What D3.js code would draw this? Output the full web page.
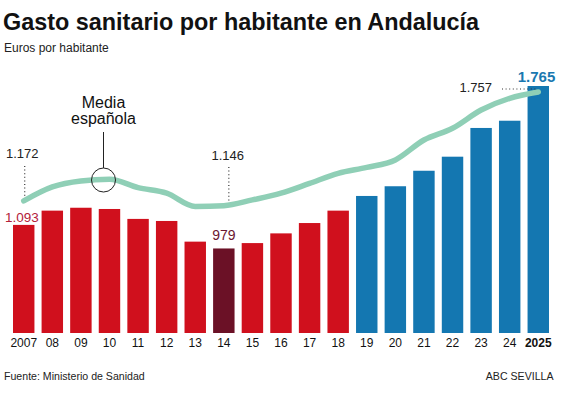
<!DOCTYPE html>
<html>
<head>
<meta charset="utf-8">
<script src="https://cdn.jsdelivr.net/npm/d3@7"></script>
<style>
  html, body { margin: 0; padding: 0; background: #fff; }
  svg { display: block; font-family: "Liberation Sans", Arial, Helvetica, sans-serif; }
</style>
</head>
<body>
<svg id="chart" width="561" height="393"></svg>
<script>
// ---- data ----
const years = ["2007","08","09","10","11","12","13","14","15","16","17","18","19","20","21","22","23","24","2025"];
const andalucia = [1093,1162,1176,1170,1122,1112,1012,979,1005,1052,1102,1162,1233,1280,1355,1423,1562,1597,1765];
const mediaEspanola = [1172,1247,1279,1288,1243,1213,1142,1146,1177,1213,1266,1320,1352,1392,1499,1562,1660,1723,1757];
const barGroup = ["r","r","r","r","r","r","r","d","r","r","r","r","b","b","b","b","b","b","b"];

const title = "Gasto sanitario por habitante en Andalucía";
const subtitle = "Euros por habitante";
const source = "Fuente: Ministerio de Sanidad";
const credit = "ABC SEVILLA";

const colors = { r: "#d0101d", d: "#6b1126", b: "#1477b1" };
const lineColor = "#8fcfb6";

const svg = d3.select("#chart");

const x = d3.scaleBand().domain(years).range([13, 549]).paddingInner(0.25).paddingOuter(0);
const y = d3.scaleLinear().domain([570, 1765]).range([333, 86]);
const yLine = d3.scaleLinear().domain([1146, 1757]).range([205.7, 92]);
const cx = d => x(d) + x.bandwidth() / 2;

// title
svg.append("text").attr("x", 3).attr("y", 29.5)
  .attr("font-size", 23.4).attr("font-weight", "bold").attr("fill", "#111")
  .text(title);
svg.append("text").attr("x", 4).attr("y", 51.5)
  .attr("font-size", 12).attr("fill", "#222").text(subtitle);

// bars
svg.append("g").selectAll("rect").data(years).join("rect")
  .attr("x", d => x(d))
  .attr("width", x.bandwidth())
  .attr("y", (d, i) => y(andalucia[i]))
  .attr("height", (d, i) => y.range()[0] - y(andalucia[i]))
  .attr("fill", (d, i) => colors[barGroup[i]]);

// line
const line = d3.line()
  .x((d, i) => cx(years[i]))
  .y(d => yLine(d))
  .curve(d3.curveMonotoneX);
svg.append("path").datum(mediaEspanola)
  .attr("d", line)
  .attr("fill", "none")
  .attr("stroke", lineColor)
  .attr("stroke-width", 5.5)
  .attr("stroke-linecap", "round")
  .attr("stroke-linejoin", "round");

// x axis
const xAxis = svg.append("g").attr("transform", "translate(0,333)")
  .call(d3.axisBottom(x).tickSize(0));
xAxis.select(".domain").remove();
xAxis.selectAll("text")
  .attr("y", 13.7).attr("dy", 0)
  .attr("font-size", 12)
  .attr("font-family", "Liberation Sans, Arial, sans-serif")
  .attr("fill", "#111")
  .attr("font-weight", d => d === "2025" ? "bold" : "normal");

// annotations
const ann = svg.append("g").attr("fill", "#222");
const dotted = (x1, y1, x2, y2) => svg.append("line")
  .attr("x1", x1).attr("y1", y1).attr("x2", x2).attr("y2", y2)
  .attr("stroke", "#333").attr("stroke-width", 1.2)
  .attr("stroke-dasharray", "1,2.6");

// 1.172
ann.append("text").attr("x", 6).attr("y", 158.3).attr("font-size", 13).text("1.172");
dotted(cx("2007") + 1, 166, cx("2007") + 1, 198);
// 1.146
ann.append("text").attr("x", 211.5).attr("y", 160).attr("font-size", 13).text("1.146");
dotted(cx("14") + 5, 167, cx("14") + 5, 202);
// 1.757
ann.append("text").attr("x", 492).attr("y", 92).attr("font-size", 13)
  .attr("text-anchor", "end").text("1.757");
dotted(502, 89, 536, 89);
// 1.765
svg.append("text").attr("x", 536.5).attr("y", 82).attr("font-size", 15)
  .attr("font-weight", "bold").attr("text-anchor", "middle").attr("fill", "#1a78b0").text("1.765");
// 1.093
svg.append("text").attr("x", 5).attr("y", 221.7).attr("font-size", 13.5)
  .attr("fill", "#b3213a").text("1.093");
// 979
svg.append("text").attr("x", cx("14")).attr("y", 240).attr("font-size", 14)
  .attr("text-anchor", "middle").attr("fill", "#6b1630").text("979");

// Media española
svg.append("text").attr("x", 103.5).attr("y", 108.3).attr("font-size", 16)
  .attr("text-anchor", "middle").attr("fill", "#111").text("Media");
svg.append("text").attr("x", 103.5).attr("y", 124.3).attr("font-size", 16)
  .attr("text-anchor", "middle").attr("fill", "#111").text("española");
svg.append("line").attr("x1", 103.5).attr("x2", 103.5).attr("y1", 132).attr("y2", 168)
  .attr("stroke", "#222").attr("stroke-width", 1);
svg.append("circle").attr("cx", 103.5).attr("cy", 180).attr("r", 12)
  .attr("fill", "none").attr("stroke", "#222").attr("stroke-width", 1);

// footer
svg.append("text").attr("x", 4).attr("y", 380).attr("font-size", 10.6).attr("fill", "#222").text(source);
svg.append("text").attr("x", 553.5).attr("y", 380).attr("font-size", 10.6)
  .attr("text-anchor", "end").attr("fill", "#222").text(credit);
</script>
</body>
</html>
